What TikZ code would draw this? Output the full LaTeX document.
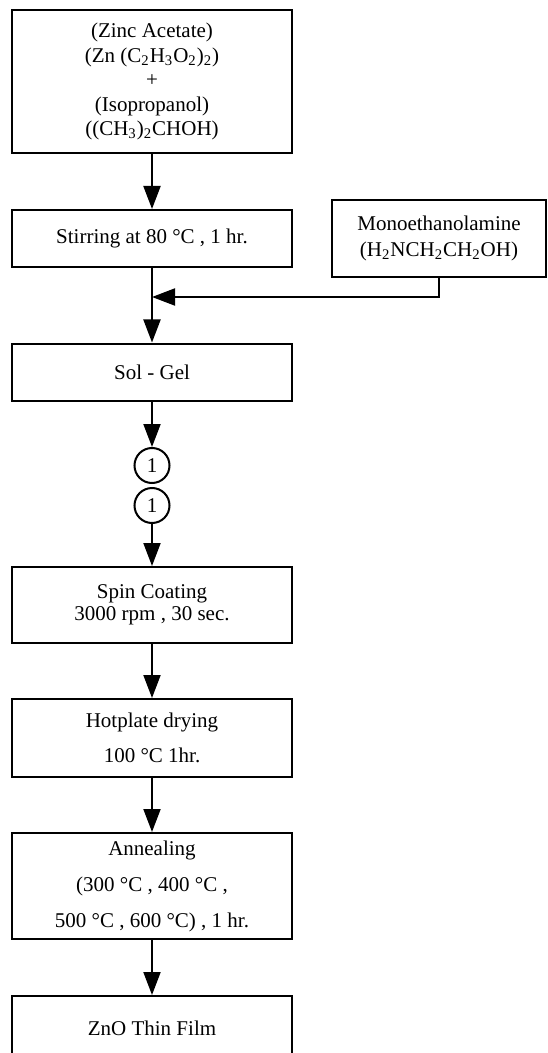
\documentclass[tikz,border=0pt]{standalone}
\usepackage{fontspec}
\setmainfont{Liberation Serif}
\usetikzlibrary{arrows.meta}

\begin{document}
\begin{tikzpicture}[->,>={Triangle[length=11.5pt,width=8.5pt]},x=0.5pt,y=-0.5pt,line width=1pt,
  main node/.style={rectangle,draw,align=center,inner sep=2pt,minimum width=140pt,font=\fontsize{10.5}{12.25}\selectfont},
  link node/.style={circle,draw,inner sep=0pt,minimum size=17.5pt,font=\fontsize{10.5}{12.25}\selectfont}]
  \useasboundingbox (0,0) rectangle (547,1053);
  \node[main node,minimum height=71.5pt] (1) at (152,81.5) {(Zinc Acetate)\\(Zn (C\textsubscript{2}H\textsubscript{3}O\textsubscript{2})\textsubscript{2})\\+\\(Isopropanol)\\((CH\textsubscript{3})\textsubscript{2}CHOH)};
  \node[main node,minimum height=28.5pt] (2) at (152,238.5) {Stirring at 80 °C , 1 hr.};
  \node[main node,minimum width=107pt,minimum height=38.5pt] (3) at (439,238.5) {Monoethanolamine\\[0.75pt](H\textsubscript{2}NCH\textsubscript{2}CH\textsubscript{2}OH)};
  \node[main node,minimum height=28.5pt] (4) at (152,372) {Sol - Gel};
  \node[link node] (5) at (152,465.5) {1};
  \node[link node] (6) at (152,505.5) {1};
  \node[main node,minimum height=38pt] (7) at (152,605) {Spin Coating\\[-1.25pt]3000 rpm , 30 sec.};
  \node[main node,minimum height=39pt] (8) at (152,738) {Hotplate drying\\[5.25pt]100 °C 1hr.};
  \node[main node,minimum height=53pt] (9) at (152,886) {Annealing\\[5.75pt](300 °C , 400 °C ,\\[5.75pt]500 °C , 600 °C) , 1 hr.};
  \node[main node,minimum height=32pt] (10) at (152,1028) {ZnO Thin Film};
  \coordinate (j) at (152,297);

\path
  (1) edge (2)
  (2) edge (4)
  (4) edge (5)
  (6) edge (7)
  (7) edge (8)
  (8) edge (9)
  (9) edge (10)
;
  \draw (3.south) |- (j);
\end{tikzpicture}
\end{document}
